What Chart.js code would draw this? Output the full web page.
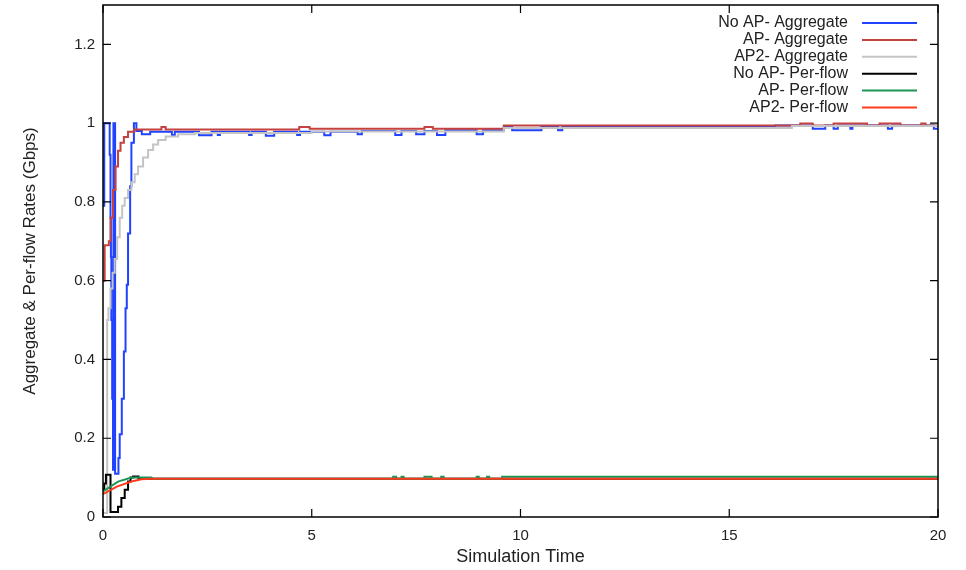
<!DOCTYPE html>
<html>
<head>
<meta charset="utf-8">
<script src="https://cdn.jsdelivr.net/npm/chart.js@4.4.1/dist/chart.umd.min.js"></script>
<style>
    html, body { margin: 0; padding: 0; background: #fff; }
</style>
</head>
<body>
<canvas id="chart-rates" width="966" height="570"></canvas>
<script>
// tick labels
const xTicks = [0, 5, 10, 15, 20];
const yTicks = [0, 0.2, 0.4, 0.6, 0.8, 1, 1.2];

const seriesNames = ['No AP- Aggregate', 'AP- Aggregate', 'AP2- Aggregate', 'No AP- Per-flow', 'AP- Per-flow', 'AP2- Per-flow'];
const seriesColors = ['#2143ff', '#c4423f', '#c4c4c4', '#000000', '#1c9457', '#ff3b1d'];

// [time, rate] pairs; each rate holds until the next time
const noApAggregate = [
    [0, 0.79], [0.03, 1.0], [0.16, 0.92], [0.18, 0.76], [0.19, 0.66], [0.2, 0.5], [0.22, 0.3], [0.24, 0.12],
    [0.25, 1.0], [0.29, 0.11], [0.37, 0.15], [0.4, 0.21], [0.45, 0.3], [0.5, 0.42], [0.54, 0.53], [0.57, 0.59],
    [0.6, 0.72], [0.65, 0.84], [0.68, 0.95], [0.74, 1.0], [0.8, 0.98], [0.93, 0.972], [1.13, 0.978],
    [1.65, 0.97], [1.72, 0.978], [2.3, 0.969], [2.6, 0.978], [2.75, 0.97], [2.8, 0.978], [3.5, 0.97],
    [3.56, 0.978], [3.9, 0.968], [4.1, 0.978], [4.65, 0.97], [4.72, 0.978], [5.3, 0.969], [5.45, 0.978],
    [6.1, 0.972], [6.2, 0.98], [7.0, 0.97], [7.15, 0.98], [7.5, 0.972], [7.7, 0.98], [8.0, 0.97], [8.2, 0.982],
    [8.95, 0.972], [9.1, 0.982], [9.6, 0.99], [9.8, 0.982], [10.5, 0.99], [10.9, 0.982], [11.0, 0.99],
    [16.1, 0.994], [17.0, 0.986], [17.3, 0.994], [17.5, 0.986], [17.6, 0.994], [17.9, 0.986], [17.95, 0.994],
    [18.8, 0.986], [18.9, 0.994], [19.9, 0.986], [20, 0.986]
];
const apAggregate = [
    [0, 0.6], [0.04, 0.69], [0.14, 0.7], [0.18, 0.76], [0.24, 0.83], [0.3, 0.89], [0.36, 0.93], [0.42, 0.95],
    [0.5, 0.965], [0.6, 0.978], [0.75, 0.984], [1.4, 0.99], [1.5, 0.984], [4.7, 0.99], [4.95, 0.986],
    [7.7, 0.99], [7.9, 0.986], [9.6, 0.994], [16.7, 0.999], [17.0, 0.994], [17.5, 0.999], [18.3, 0.994],
    [18.6, 0.999], [19.1, 0.994], [19.6, 0.999], [19.7, 0.994], [20, 0.994]
];
const ap2Aggregate = [
    [0, 0.01], [0.1, 0.5], [0.13, 0.53], [0.18, 0.58], [0.23, 0.62], [0.28, 0.655], [0.34, 0.71], [0.4, 0.76],
    [0.46, 0.79], [0.52, 0.81], [0.6, 0.83], [0.68, 0.85], [0.76, 0.87], [0.84, 0.89], [0.96, 0.913],
    [1.08, 0.932], [1.2, 0.946], [1.32, 0.957], [1.5, 0.966], [1.8, 0.972], [2.2, 0.975], [5.0, 0.979],
    [9.6, 0.988], [16.5, 0.993], [20, 0.993]
];
const noApPerFlow = [
    [0, 0.07], [0.03, 0.085], [0.07, 0.107], [0.18, 0.013], [0.36, 0.026], [0.44, 0.048], [0.52, 0.069],
    [0.6, 0.09], [0.66, 0.1], [0.72, 0.103], [0.85, 0.097], [20, 0.097]
];
const apPerFlow = [
    [0, 0.065], [0.36, 0.09], [0.68, 0.1], [1.16, 0.1], [1.2, 0.097],
    [6.95, 0.097], [6.95, 0.102], [7.02, 0.102], [7.02, 0.097],
    [7.15, 0.097], [7.15, 0.102], [7.2, 0.102], [7.2, 0.097],
    [7.7, 0.097], [7.7, 0.102], [7.87, 0.102], [7.87, 0.097],
    [8.1, 0.097], [8.1, 0.102], [8.16, 0.102], [8.16, 0.097],
    [8.95, 0.097], [8.95, 0.102], [9.0, 0.102], [9.0, 0.097],
    [9.2, 0.097], [9.2, 0.102], [9.25, 0.102], [9.25, 0.097],
    [9.56, 0.097], [9.56, 0.102], [20, 0.102]
];
const ap2PerFlow = [
    [0, 0.058], [0.33, 0.077], [0.68, 0.09], [0.92, 0.096], [1.16, 0.097], [20, 0.097]
];

const allSeries = [noApAggregate, apAggregate, ap2Aggregate, noApPerFlow, apPerFlow, ap2PerFlow];
const steppedSeries = [true, true, true, true, false, false];

const FONT = '"Liberation Sans", Arial, sans-serif';

// border, inward ticks, axis titles and the gnuplot-style key
const framePlugin = {
    id: 'frame',
    afterDatasetsDraw(chart) {
        const { ctx, chartArea: a, scales } = chart;
        ctx.save();
        ctx.strokeStyle = '#000';
        ctx.lineWidth = 1.5;
        ctx.strokeRect(a.left, a.top, a.right - a.left, a.bottom - a.top);

        ctx.lineWidth = 1.2;
        ctx.beginPath();
        xTicks.forEach(v => {
            const x = scales.x.getPixelForValue(v);
            ctx.moveTo(x, a.bottom); ctx.lineTo(x, a.bottom - 8);
            ctx.moveTo(x, a.top); ctx.lineTo(x, a.top + 8);
        });
        yTicks.forEach(v => {
            const y = scales.y.getPixelForValue(v);
            ctx.moveTo(a.left, y); ctx.lineTo(a.left + 8, y);
            ctx.moveTo(a.right, y); ctx.lineTo(a.right - 8, y);
        });
        ctx.stroke();

        // key
        ctx.font = '16px ' + FONT;
        ctx.textAlign = 'right';
        ctx.textBaseline = 'middle';
        seriesNames.forEach((name, i) => {
            const y = 23 + i * 16.9;
            ctx.fillStyle = '#222';
            ctx.fillText(name, 848, y);
            ctx.strokeStyle = seriesColors[i];
            ctx.lineWidth = 2;
            ctx.beginPath();
            ctx.moveTo(862, y);
            ctx.lineTo(917, y);
            ctx.stroke();
        });

        // axis titles
        ctx.fillStyle = '#222';
        ctx.textAlign = 'center';
        ctx.font = '18px ' + FONT;
        ctx.fillText('Simulation Time', (a.left + a.right) / 2, 557);
        ctx.font = '17px ' + FONT;
        ctx.translate(30, (a.top + a.bottom) / 2);
        ctx.rotate(-Math.PI / 2);
        ctx.fillText('Aggregate & Per-flow Rates (Gbps)', 0, 0);
        ctx.restore();
    }
};

const ctx = document.getElementById('chart-rates').getContext('2d');
const ratesChart = new Chart(ctx, {
    type: 'line',
    data: {
        datasets: allSeries.map((pts, i) => ({
            label: seriesNames[i],
            data: pts.map(p => ({ x: p[0], y: p[1] })),
            borderColor: seriesColors[i],
            borderWidth: 2,
            stepped: steppedSeries[i], // true = hold value until next point
            pointRadius: 0,
            fill: false,
            order: 6 - i // later series on top, like gnuplot
        }))
    },
    options: {
        responsive: false,
        animation: false,
        events: [],
        layout: { padding: { left: 0, right: 28, top: 5, bottom: 0 } },
        plugins: {
            legend: { display: false },
            tooltip: { enabled: false }
        },
        scales: {
            x: {
                type: 'linear',
                min: 0,
                max: 20,
                afterBuildTicks: s => { s.ticks = xTicks.map(v => ({ value: v })); },
                afterFit: s => { s.height = 53; s.paddingLeft = 0; s.paddingRight = 0; },
                grid: { display: false, drawTicks: false },
                border: { display: false },
                ticks: {
                    padding: 10,
                    maxRotation: 0,
                    autoSkip: false,
                    color: '#222',
                    font: { family: FONT, size: 15 },
                    callback: v => String(v)
                }
            },
            y: {
                type: 'linear',
                min: 0,
                max: 1.3,
                afterBuildTicks: s => { s.ticks = yTicks.map(v => ({ value: v })); },
                afterFit: s => { s.width = 103; s.paddingTop = 0; s.paddingBottom = 0; },
                grid: { display: false, drawTicks: false },
                border: { display: false },
                ticks: {
                    padding: 8,
                    autoSkip: false,
                    color: '#222',
                    font: { family: FONT, size: 15 },
                    callback: v => String(v)
                }
            }
        }
    },
    plugins: [framePlugin]
});
</script>
</body>
</html>
